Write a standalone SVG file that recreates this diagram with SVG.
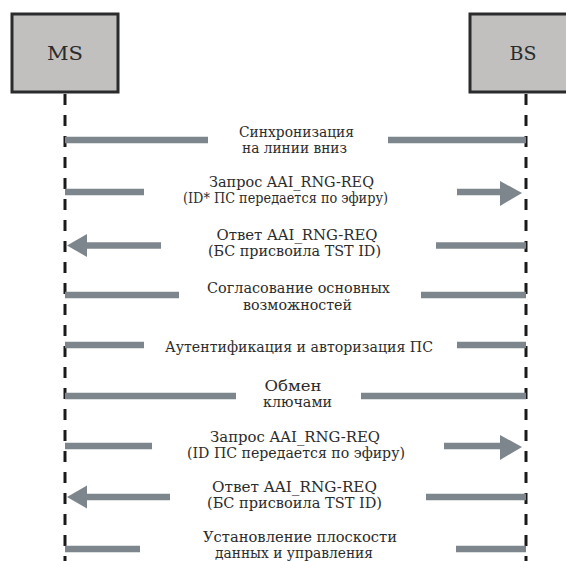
<svg xmlns="http://www.w3.org/2000/svg" width="566" height="561" viewBox="0 0 566 561">
<style>
.box{fill:#c1c0bf;stroke:#2a2b2d;stroke-width:3}
.life{stroke:#1a1a1a;stroke-width:3;stroke-dasharray:11 10;fill:none}
.bar{stroke:#7e868d;stroke-width:6.5;fill:none}
.head{fill:#7e868d}
.t{font-family:'DejaVu Serif','Liberation Serif','Times New Roman',serif;fill:#2b2b2b;text-anchor:middle}
.lbl{font-size:14px}
.nm{font-size:19px}
</style>
<rect width="566" height="561" fill="#ffffff"/>
<g id="ms">
<rect class="box" x="12" y="14" width="106" height="78"/>
<text class="t nm" x="65" y="60" textLength="36" lengthAdjust="spacingAndGlyphs">MS</text>
</g>
<g id="bs">
<rect class="box" x="470" y="14" width="112" height="78"/>
<text class="t nm" x="523" y="60" textLength="27" lengthAdjust="spacingAndGlyphs">BS</text>
</g>
<g id="lifelines">
<line class="life" x1="65" y1="94" x2="65" y2="561"/>
<line class="life" x1="526" y1="94" x2="526" y2="561"/>
</g>
<g id="connectors">
<line class="bar" x1="65" y1="140" x2="208" y2="140"/>
<line class="bar" x1="388" y1="140" x2="526" y2="140"/>
<line class="bar" x1="65" y1="192" x2="144" y2="192"/>
<line class="bar" x1="457" y1="192" x2="502" y2="192"/>
<polygon class="head" points="500,181 522,193 500,206"/>
<line class="bar" x1="86" y1="245.5" x2="161" y2="245.5"/>
<polygon class="head" points="67,245.5 87,234 87,257"/>
<line class="bar" x1="436" y1="245.5" x2="526" y2="245.5"/>
<line class="bar" x1="65" y1="295" x2="179" y2="295"/>
<line class="bar" x1="421" y1="295" x2="526" y2="295"/>
<line class="bar" x1="65" y1="345" x2="144" y2="345"/>
<line class="bar" x1="457" y1="345" x2="526" y2="345"/>
<line class="bar" x1="65" y1="396" x2="236" y2="396"/>
<line class="bar" x1="361" y1="396" x2="526" y2="396"/>
<line class="bar" x1="65" y1="446" x2="152" y2="446"/>
<line class="bar" x1="444" y1="446" x2="502" y2="446"/>
<polygon class="head" points="500,435 522,447 500,460"/>
<line class="bar" x1="86" y1="497" x2="170" y2="497"/>
<polygon class="head" points="67,497 87,485.5 87,508.5"/>
<line class="bar" x1="426" y1="497" x2="526" y2="497"/>
<line class="bar" x1="65" y1="549" x2="140" y2="549"/>
<line class="bar" x1="456" y1="549" x2="526" y2="549"/>
</g>
<g id="labels">
<text class="t lbl" x="296.5" y="137" textLength="115" lengthAdjust="spacingAndGlyphs">Синхронизация</text>
<text class="t lbl" x="294.5" y="153" textLength="105" lengthAdjust="spacingAndGlyphs">на линии вниз</text>
<text class="t lbl" x="291.5" y="187" textLength="165" lengthAdjust="spacingAndGlyphs">Запрос AAI_RNG-REQ</text>
<text class="t lbl" x="285.5" y="203" textLength="205" lengthAdjust="spacingAndGlyphs">(ID* ПС передается по эфиру)</text>
<text class="t lbl" x="297" y="240" textLength="161" lengthAdjust="spacingAndGlyphs">Ответ AAI_RNG-REQ</text>
<text class="t lbl" x="294.5" y="256" textLength="173" lengthAdjust="spacingAndGlyphs">(БС присвоила TST ID)</text>
<text class="t lbl" x="298.5" y="293" textLength="183" lengthAdjust="spacingAndGlyphs">Согласование основных</text>
<text class="t lbl" x="297.5" y="310" textLength="109" lengthAdjust="spacingAndGlyphs">возможностей</text>
<text class="t lbl" x="299" y="352" textLength="268" lengthAdjust="spacingAndGlyphs">Аутентификация и авторизация ПС</text>
<text class="t lbl" x="293" y="391" textLength="57" lengthAdjust="spacingAndGlyphs">Обмен</text>
<text class="t lbl" x="297.5" y="407" textLength="69" lengthAdjust="spacingAndGlyphs">ключами</text>
<text class="t lbl" x="295" y="442" textLength="170" lengthAdjust="spacingAndGlyphs">Запрос AAI_RNG-REQ</text>
<text class="t lbl" x="296" y="458" textLength="218" lengthAdjust="spacingAndGlyphs">(ID ПС передается по эфиру)</text>
<text class="t lbl" x="294.5" y="492" textLength="165" lengthAdjust="spacingAndGlyphs">Ответ AAI_RNG-REQ</text>
<text class="t lbl" x="294.5" y="508" textLength="175" lengthAdjust="spacingAndGlyphs">(БС присвоила TST ID)</text>
<text class="t lbl" x="300" y="542" textLength="194" lengthAdjust="spacingAndGlyphs">Установление плоскости</text>
<text class="t lbl" x="294" y="558" textLength="158" lengthAdjust="spacingAndGlyphs">данных и управления</text>
</g>
</svg>
